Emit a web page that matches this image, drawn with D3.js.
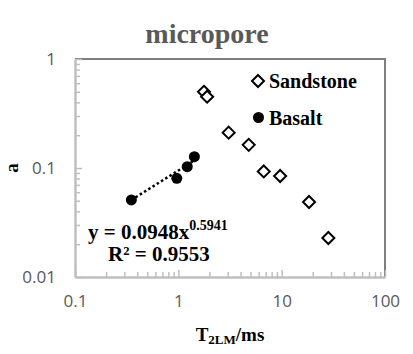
<!DOCTYPE html>
<html><head><meta charset="utf-8">
<script src="https://cdn.jsdelivr.net/npm/d3@7"></script>
<style>
html,body{margin:0;padding:0;background:#fff;}
svg{display:block;}
</style></head>
<body>
<script>
// ---- data ----
const sandstoneT2 = [1.77, 1.90, 3.07, 4.80, 6.71, 9.66, 18.4, 28.3];
const sandstoneA  = [0.50, 0.451, 0.211, 0.163, 0.093, 0.0845, 0.0488, 0.0228];
const basaltT2 = [0.351, 0.966, 1.22, 1.43];
const basaltA  = [0.0509, 0.0805, 0.1028, 0.127];
const fitCoef = 0.0948, fitExp = 0.5941, fitR2 = "0.9553";
const xTickValues = [0.1, 1, 10, 100];
const yTickValues = [0.01, 0.1, 1];
const seriesNames = ["Sandstone", "Basalt"];

const W = 413, H = 354;
const L = 75, R = 385, T = 59, B = 277;
const svg = d3.select("body").append("svg").attr("width", W).attr("height", H);

const x = d3.scaleLog().domain([0.1, 100]).range([L, R]);
const y = d3.scaleLog().domain([0.01, 1]).range([B, T]);

const minor = (vals) => {
  const out = [];
  for (let i = 0; i < vals.length - 1; i++)
    for (let m = 2; m <= 9; m++) out.push(vals[i] * m);
  return out;
};

// border top/right
svg.append("path")
  .attr("d", `M${L},${T}H${R}V${B}`)
  .attr("fill", "none").attr("stroke", "#7f7f7f").attr("stroke-width", 2);

const labelFont = "'Open Sans', sans-serif";
const grayAxis = "#bfbfbf";

const yMinor = svg.append("g").attr("transform", `translate(${L},0)`)
  .call(d3.axisLeft(y).tickValues(minor(yTickValues)).tickFormat("").tickSizeInner(-5).tickSizeOuter(0));
const yMajor = svg.append("g").attr("transform", `translate(${L},0)`)
  .call(d3.axisLeft(y).tickValues(yTickValues).tickFormat(d => String(d)).tickSizeInner(-7).tickSizeOuter(0).tickPadding(20));
const xMinor = svg.append("g").attr("transform", `translate(0,${B})`)
  .call(d3.axisBottom(x).tickValues(minor(xTickValues)).tickFormat("").tickSizeInner(-5).tickSizeOuter(0));
const xMajor = svg.append("g").attr("transform", `translate(0,${B})`)
  .call(d3.axisBottom(x).tickValues(xTickValues).tickFormat(d => String(d)).tickSizeInner(-7).tickSizeOuter(0).tickPadding(18));

[yMinor, yMajor, xMinor, xMajor].forEach(g => {
  g.selectAll("path.domain").attr("stroke", grayAxis).attr("stroke-width", 2);
  g.selectAll(".tick line").attr("stroke", grayAxis).attr("stroke-width", 1.5);
  g.selectAll("text").attr("font-family", labelFont).attr("font-size", 17).attr("fill", "#595959");
});
yMajor.selectAll("text").attr("x", -19);

// trendline
const xs = [d3.min(basaltT2), d3.max(basaltT2)];
svg.append("path")
  .datum(xs.map(v => [v, fitCoef * Math.pow(v, fitExp)]))
  .attr("d", d3.line().x(d => x(d[0])).y(d => y(d[1])))
  .attr("fill", "none").attr("stroke", "#000").attr("stroke-width", 2.5)
  .attr("stroke-dasharray", "2.5,2.5");

const diamond = s => `M0,${-s}L${s},0L0,${s}L${-s},0Z`;

svg.append("g").selectAll("path").data(sandstoneT2.map((v, i) => [v, sandstoneA[i]]))
  .join("path")
  .attr("transform", d => `translate(${x(d[0])},${y(d[1])})`)
  .attr("d", diamond(6))
  .attr("fill", "#fff").attr("stroke", "#000").attr("stroke-width", 2);

svg.append("g").selectAll("circle").data(basaltT2.map((v, i) => [v, basaltA[i]]))
  .join("circle")
  .attr("cx", d => x(d[0])).attr("cy", d => y(d[1])).attr("r", 5.5)
  .attr("fill", "#000");

const serif = "'Liberation Serif', 'Times New Roman', serif";

svg.append("text").attr("x", 207).attr("y", 43).attr("text-anchor", "middle")
  .attr("font-family", serif).attr("font-weight", "bold").attr("font-size", 28)
  .attr("fill", "#595959").text("micropore");

const xt = svg.append("text").attr("x", 230).attr("y", 341).attr("text-anchor", "middle")
  .attr("font-family", serif).attr("font-weight", "bold").attr("font-size", 19).attr("fill", "#000");
xt.append("tspan").text("T");
xt.append("tspan").attr("font-size", 13).attr("dy", 3).text("2LM");
xt.append("tspan").attr("dy", -3).text("/ms");

svg.append("text").attr("transform", `translate(18,168) rotate(-90)`).attr("text-anchor", "middle")
  .attr("font-family", serif).attr("font-weight", "bold").attr("font-size", 19).attr("fill", "#000")
  .text("a");

const lg = svg.append("g");
lg.append("path").attr("transform", "translate(258,81)").attr("d", diamond(6))
  .attr("fill", "#fff").attr("stroke", "#000").attr("stroke-width", 2);
lg.append("text").attr("x", 269).attr("y", 88).attr("font-family", serif).attr("font-weight", "bold")
  .attr("font-size", 20).text(seriesNames[0]);
lg.append("circle").attr("cx", 258.5).attr("cy", 117.5).attr("r", 5.5).attr("fill", "#000");
lg.append("text").attr("x", 269).attr("y", 125).attr("font-family", serif).attr("font-weight", "bold")
  .attr("font-size", 20).text(seriesNames[1]);

const eq = svg.append("text").attr("x", 88).attr("y", 239).attr("font-family", serif)
  .attr("font-weight", "bold").attr("font-size", 21).attr("fill", "#000");
eq.append("tspan").text(`y = ${fitCoef}x`);
eq.append("tspan").attr("font-size", 14).attr("dy", -9).text(String(fitExp));
svg.append("text").attr("x", 108).attr("y", 261).attr("font-family", serif)
  .attr("font-weight", "bold").attr("font-size", 21).attr("fill", "#000")
  .text(`R² = ${fitR2}`);
</script>
</body></html>
